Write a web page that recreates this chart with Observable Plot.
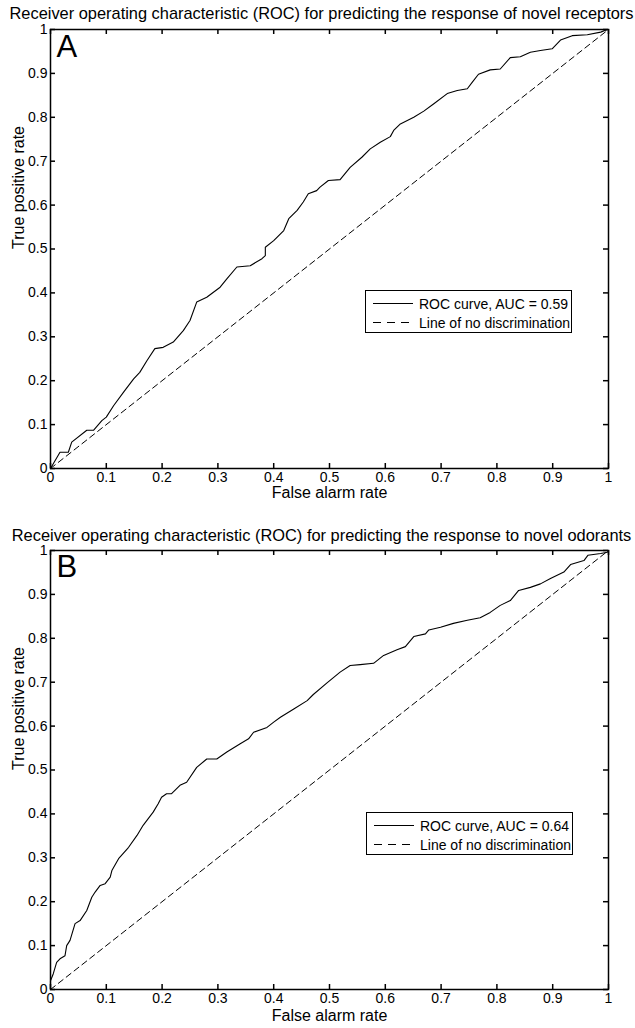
<!DOCTYPE html>
<html><head><meta charset="utf-8">
<script src="https://cdn.jsdelivr.net/npm/d3@7"></script>
<script src="https://cdn.jsdelivr.net/npm/@observablehq/plot@0.6"></script>
<style>
body{margin:0;background:#fff;}
#root{position:relative;width:635px;height:1028px;font-family:"Liberation Sans",Arial,sans-serif;}
.panel{position:absolute;left:0;}
.legend{position:absolute;}
</style></head><body><div id="root"></div>
<script>
const titles = [
  "Receiver operating characteristic (ROC) for predicting the response of novel receptors",
  "Receiver operating characteristic (ROC) for predicting the response to novel odorants"
];
const panelLetters = ["A", "B"];
const aucLabels = ["ROC curve, AUC = 0.59", "ROC curve, AUC = 0.64"];
const diagLabel = "Line of no discrimination";
const xLabel = "False alarm rate";
const yLabel = "True positive rate";
const tickValues = [0, 0.1, 0.2, 0.3, 0.4, 0.5, 0.6, 0.7, 0.8, 0.9, 1];
const diagX = [0, 1];
const diagY = [0, 1];

const rocAx = [0,0.017,0.032,0.038,0.065,0.077,0.092,0.1,0.113,0.131,0.149,0.16,0.173,0.187,0.202,0.22,0.238,0.25,0.262,0.28,0.304,0.316,0.334,0.358,0.379,0.385,0.385,0.4,0.418,0.427,0.442,0.453,0.462,0.477,0.483,0.498,0.519,0.537,0.558,0.573,0.591,0.609,0.615,0.627,0.651,0.669,0.687,0.711,0.729,0.747,0.756,0.767,0.788,0.806,0.824,0.842,0.86,0.878,0.899,0.914,0.935,0.962,0.986,0.998,1];
const rocAy = [0,0.037,0.037,0.06,0.087,0.087,0.109,0.117,0.143,0.174,0.204,0.219,0.246,0.273,0.276,0.288,0.314,0.337,0.379,0.39,0.413,0.432,0.459,0.462,0.478,0.485,0.504,0.519,0.542,0.569,0.588,0.607,0.626,0.633,0.641,0.656,0.658,0.686,0.709,0.728,0.743,0.756,0.77,0.785,0.8,0.814,0.831,0.854,0.861,0.865,0.88,0.898,0.908,0.91,0.936,0.938,0.948,0.952,0.956,0.976,0.986,0.988,0.994,1.0,1];

const rocBx = [0,0.0,0.005,0.011,0.017,0.026,0.029,0.035,0.044,0.053,0.065,0.074,0.08,0.089,0.098,0.107,0.11,0.122,0.14,0.155,0.166,0.184,0.193,0.199,0.208,0.217,0.232,0.244,0.262,0.28,0.298,0.316,0.34,0.355,0.364,0.388,0.4,0.412,0.436,0.46,0.471,0.495,0.519,0.537,0.555,0.579,0.597,0.621,0.636,0.651,0.672,0.678,0.699,0.722,0.747,0.77,0.788,0.806,0.824,0.839,0.86,0.878,0.896,0.92,0.932,0.956,0.963,0.986,0.998,1];
const rocBy = [0,0.02,0.036,0.062,0.07,0.077,0.1,0.112,0.15,0.157,0.18,0.21,0.222,0.237,0.241,0.256,0.271,0.298,0.324,0.351,0.374,0.404,0.423,0.438,0.446,0.446,0.465,0.472,0.506,0.525,0.525,0.541,0.56,0.571,0.586,0.597,0.609,0.62,0.639,0.658,0.672,0.698,0.723,0.738,0.74,0.743,0.761,0.774,0.781,0.804,0.81,0.819,0.825,0.834,0.841,0.847,0.859,0.875,0.886,0.909,0.916,0.924,0.936,0.951,0.968,0.977,0.989,0.993,0.996,1];

const FONT = '"Liberation Sans", Arial, Helvetica, sans-serif';
const W = 635, H = 514, ML = 50, MR = 27;

function makePanel({title, letter, xs, ys, marginTop, marginBottom, xLabelDy, titleDy, letterDy}) {
  const innerH = H - marginTop - marginBottom;
  const innerW = W - ML - MR;
  const roc = xs.map((x, i) => ({x, y: ys[i]}));
  const diag = diagX.map((x, i) => ({x, y: diagY[i]}));
  const fmt = d => `${d}`;
  return Plot.plot({
    width: W, height: H,
    marginLeft: ML, marginRight: MR, marginTop, marginBottom,
    style: {fontFamily: FONT, fontSize: "14px", background: "white", color: "black", overflow: "visible"},
    x: {domain: [0, 1]},
    y: {domain: [0, 1]},
    marks: [
      Plot.line(diag, {x: "x", y: "y", stroke: "black", strokeWidth: 1, strokeDasharray: "6,4"}),
      Plot.line(roc, {x: "x", y: "y", stroke: "black", strokeWidth: 1.1}),
      Plot.tickX(tickValues, {x: d => d, insetTop: innerH - 5, stroke: "black", strokeWidth: 1.5}),
      Plot.tickX(tickValues, {x: d => d, insetBottom: innerH - 5, stroke: "black", strokeWidth: 1.5}),
      Plot.tickY(tickValues, {y: d => d, insetRight: innerW - 5, stroke: "black", strokeWidth: 1.5}),
      Plot.tickY(tickValues, {y: d => d, insetLeft: innerW - 5, stroke: "black", strokeWidth: 1.5}),
      Plot.frame({stroke: "black", strokeWidth: 1.5}),
      Plot.axisX(tickValues, {tickSize: 0, tickPadding: 4, label: null, fontSize: 14, tickFormat: fmt}),
      Plot.axisY(tickValues, {tickSize: 0, tickPadding: 3, label: null, fontSize: 14, tickFormat: fmt}),
      Plot.text([xLabel], {text: d => d, frameAnchor: "bottom", dy: xLabelDy, fontSize: 16}),
      Plot.text([yLabel], {text: d => d, frameAnchor: "left", dx: -32, rotate: -90, fontSize: 16}),
      Plot.text([title], {text: d => d, frameAnchor: "top", dy: titleDy, dx: -8, fontSize: 16.4, lineAnchor: "middle"}),
      Plot.text([letter], {text: d => d, frameAnchor: "top-left", dx: 6, dy: letterDy, fontSize: 31, textAnchor: "start"})
    ]
  });
}

function makeLegend(label, left, top) {
  const div = document.createElement("div");
  div.className = "legend";
  div.style.left = left + "px";
  div.style.top = top + "px";
  div.innerHTML = `<svg width="207" height="43" style="font-family:'Liberation Sans',Arial,sans-serif;font-size:14px">
    <rect x="0.5" y="0.5" width="206" height="42" fill="white" stroke="black" stroke-width="1"/>
    <line x1="8" x2="48" y1="13.5" y2="13.5" stroke="black" stroke-width="1.2"/>
    <text x="54" y="18.5">${label}</text>
    <line x1="8" x2="48" y1="32.5" y2="32.5" stroke="black" stroke-width="1.2" stroke-dasharray="8,6"/>
    <text x="54" y="37.5">${diagLabel}</text>
  </svg>`;
  return div;
}

const root = document.getElementById("root");
const pA = makePanel({title: titles[0], letter: panelLetters[0], xs: rocAx, ys: rocAy, marginTop: 29, marginBottom: 46, xLabelDy: 29, titleDy: -16, letterDy: 5});
pA.classList.add("panel"); pA.style.top = "0px";
root.appendChild(pA);
const pB = makePanel({title: titles[1], letter: panelLetters[1], xs: rocBx, ys: rocBy, marginTop: 36, marginBottom: 39, xLabelDy: 31, titleDy: -15, letterDy: 4});
pB.classList.add("panel"); pB.style.top = "514px";
root.appendChild(pB);
root.appendChild(makeLegend(aucLabels[0], 365, 290));
root.appendChild(makeLegend(aucLabels[1], 366, 812));
</script>
</body></html>
